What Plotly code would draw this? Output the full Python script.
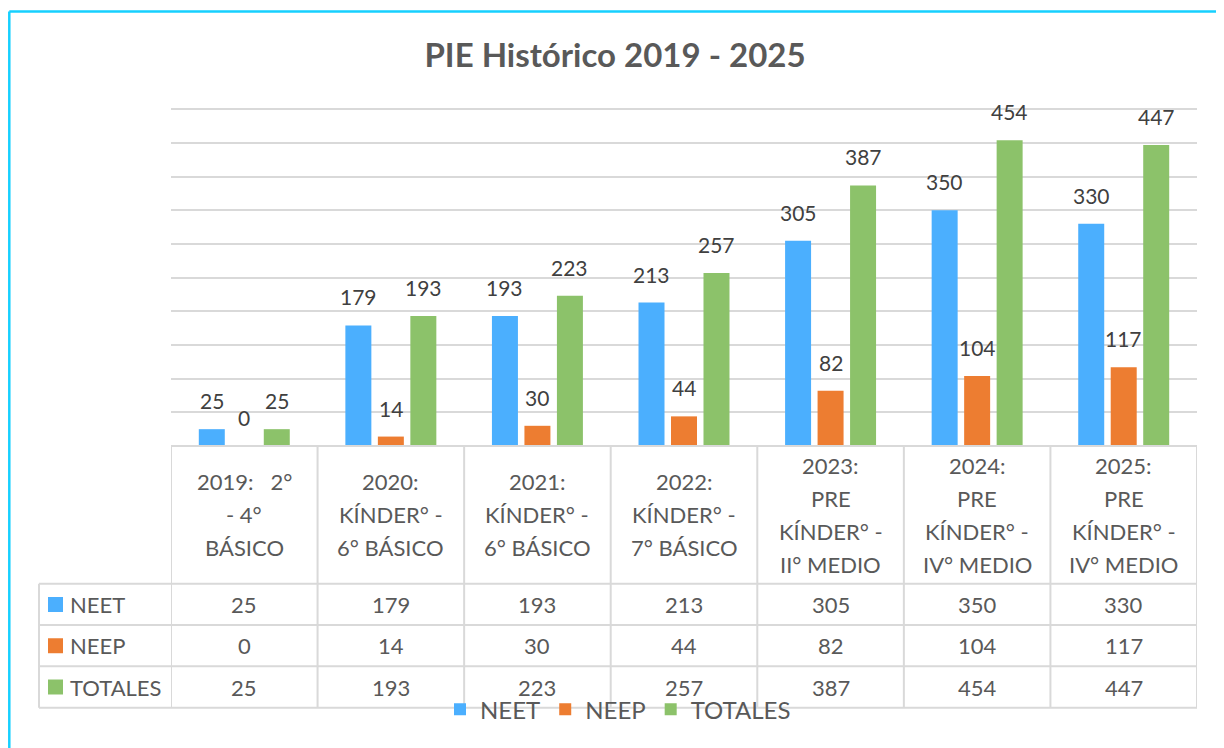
import plotly.graph_objects as go

# ---------------- data ----------------
categories = [
    "2019:\u00a0\u00a0\u00a02°\n- 4°\nBÁSICO",
    "2020:\nKÍNDER° -\n6° BÁSICO",
    "2021:\nKÍNDER° -\n6° BÁSICO",
    "2022:\nKÍNDER° -\n7° BÁSICO",
    "2023:\nPRE\nKÍNDER° -\nII° MEDIO",
    "2024:\nPRE\nKÍNDER° -\nIV° MEDIO",
    "2025:\nPRE\nKÍNDER° -\nIV° MEDIO",
]
series_names = ["NEET", "NEEP", "TOTALES"]
neet = [25, 179, 193, 213, 305, 350, 330]
neep = [0, 14, 30, 44, 82, 104, 117]
totales = [25, 193, 223, 257, 387, 454, 447]
series_values = [neet, neep, totales]
title_text = "PIE Histórico 2019 - 2025"

# ---------------- styling ----------------
colors = ["#4BAFFE", "#ED7D31", "#8CC26A"]
TXT = "#595959"
LBL = "#404040"
GRID = "#D9D9D9"
BORDER = "#16D0FF"
FONT = "Lato"

PAGE_W, PAGE_H = 1224, 748
OFF = 8                      # page body margin
W, H = PAGE_W - OFF, PAGE_H - OFF
YMAX_GRID = 500
YMAX = 502
# plot area in page pixels
L, R, B = 171, 1197, 446
T_GRID = 109                 # pixel of the 500 gridline
T = B - (B - T_GRID) * YMAX / YMAX_GRID


def px(xp):
    return (xp - L) / (R - L)


def py(yp):
    return (B - yp) / (B - T)


n = len(categories)
x_idx = list(range(n))
bargap = 0.335
slot = (1 - bargap) / len(series_names)

fig = go.Figure()
for k, (name, vals) in enumerate(zip(series_names, series_values)):
    fig.add_trace(go.Bar(
        name=name, x=x_idx, y=vals,
        marker=dict(color=colors[k], line=dict(width=0)),
        hoverinfo="x+y",
    ))

shapes = []
annotations = []

# data labels above bars
for k, vals in enumerate(series_values):
    off = (k - (len(series_names) - 1) / 2) * slot
    for i, v in enumerate(vals):
        annotations.append(dict(
            x=i + off, y=v, xref="x", yref="y", text=str(v), showarrow=False,
            yanchor="bottom", yshift=14, font=dict(family=FONT, size=21, color=LBL),
        ))

# ---------- data table ----------
line = dict(color=GRID, width=2)
header_bottom, row_h = 584, 41.3
rows_y = [header_bottom + row_h * r for r in range(len(series_names) + 1)]
table_left = 39

shapes.append(dict(type="line", xref="paper", yref="paper", x0=0, x1=1, y0=0, y1=0, line=line))
for yy in rows_y:
    shapes.append(dict(type="line", xref="paper", yref="paper",
                       x0=px(table_left), x1=1, y0=py(yy), y1=py(yy), line=line))
for i in range(n + 1):
    shapes.append(dict(type="line", xref="x", yref="paper", x0=i - 0.5, x1=i - 0.5,
                       y0=0, y1=py(rows_y[-1]), line=line))
shapes.append(dict(type="line", xref="paper", yref="paper", x0=px(table_left), x1=px(table_left),
                   y0=py(rows_y[0]), y1=py(rows_y[-1]), line=line))

# category header text
hdr_center, line_sp = 515, 33
for i, cat in enumerate(categories):
    parts = cat.split("\n")
    m = len(parts)
    for j, part in enumerate(parts):
        yc = hdr_center + (j - (m - 1) / 2) * line_sp
        annotations.append(dict(
            x=i, y=py(yc), xref="x", yref="paper", text=part, showarrow=False,
            xanchor="center", yanchor="middle", font=dict(family=FONT, size=22, color=TXT),
        ))

# rows
for r, (name, vals) in enumerate(zip(series_names, series_values)):
    yc = (rows_y[r] + rows_y[r + 1]) / 2
    shapes.append(dict(type="rect", xref="paper", yref="paper",
                       x0=px(48), x1=px(63), y0=py(yc - 7.5), y1=py(yc + 7.5),
                       fillcolor=colors[r], line=dict(width=0)))
    annotations.append(dict(
        x=px(68), y=py(yc), xref="paper", yref="paper", text=name, showarrow=False,
        xanchor="left", yanchor="middle", font=dict(family=FONT, size=22, color=TXT),
    ))
    for i, v in enumerate(vals):
        annotations.append(dict(
            x=i, y=py(yc), xref="x", yref="paper", text=str(v), showarrow=False,
            xanchor="center", yanchor="middle", font=dict(family=FONT, size=22, color=TXT),
        ))

# outer chart border (top and left visible)
border = dict(color=BORDER, width=2.5)
left_x = OFF + 1.3
shapes.append(dict(type="line", xref="paper", yref="paper", x0=px(left_x), x1=px(PAGE_W + 5),
                   y0=py(11), y1=py(11), line=border))
shapes.append(dict(type="line", xref="paper", yref="paper", x0=px(left_x), x1=px(left_x),
                   y0=py(11), y1=py(PAGE_H + 5), line=border))

fig.update_layout(
    width=W, height=H,
    margin=dict(l=L - OFF, r=PAGE_W - R, t=T - OFF, b=PAGE_H - B, pad=0),
    paper_bgcolor="white", plot_bgcolor="white",
    barmode="group", bargap=bargap, bargroupgap=0.2,
    title=dict(text=f"<b>{title_text}</b>", x=(615 - OFF) / W, xref="container", xanchor="center",
               y=1 - (55 - OFF) / H, yref="container", yanchor="middle",
               font=dict(family=FONT, size=33, color=TXT)),
    xaxis=dict(range=[-0.5, n - 0.5], showticklabels=False, showgrid=False,
               zeroline=False, showline=False, ticks=""),
    yaxis=dict(range=[0, YMAX], tick0=0, dtick=50, showticklabels=False, showgrid=True,
               gridcolor=GRID, gridwidth=1.5, zeroline=False, showline=False, ticks=""),
    legend=dict(orientation="h", x=px(618), xanchor="center", y=py(710), yanchor="middle",
                bgcolor="rgba(0,0,0,0)", font=dict(family=FONT, size=24, color=TXT),
                itemwidth=30, traceorder="normal"),
    showlegend=True,
    shapes=shapes,
    annotations=annotations,
    font=dict(family=FONT, color=TXT),
)

fig.write_html("out.html")
